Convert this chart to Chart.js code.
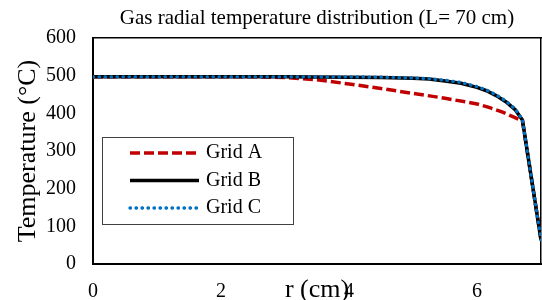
<!DOCTYPE html>
<html>
<head>
<meta charset="utf-8">
<script src="https://cdn.jsdelivr.net/npm/chart.js@4.4.0/dist/chart.umd.min.js"></script>
<style>
  html, body { margin: 0; padding: 0; background: #fff; }
  #wrap { width: 542px; height: 300px; position: relative; }
</style>
</head>
<body>
<div id="wrap"><canvas id="chart" width="542" height="300"></canvas></div>
<script>
// values
const chartTitle = 'Gas radial temperature distribution (L= 70 cm)';
const xTitle = 'r (cm)';
const yTitle = 'Temperature (°C)';
const xTicks = [0, 2, 4, 6];
const yTicks = [0, 100, 200, 300, 400, 500, 600];

const seriesNames = ['Grid A', 'Grid B', 'Grid C'];

const rA = [0, 1, 2, 2.5, 3, 3.5, 4, 4.5, 5, 5.5, 6, 6.2, 6.4, 6.55, 6.71, 7];
const tempA = [497, 497, 497, 497, 495, 489, 478, 466, 453, 440, 425, 415, 403, 392, 380, 64];

const rB = [0, 1, 2, 3, 4, 4.5, 5, 5.25, 5.5, 5.75, 6, 6.15, 6.3, 6.45, 6.6, 6.71, 7];
const tempB = [497, 497, 497, 497, 496, 495, 493, 491, 486, 480, 469, 460, 447, 431, 409, 382, 64];

const rC = [0, 1, 2, 3, 4, 4.5, 5, 5.25, 5.5, 5.75, 6, 6.15, 6.3, 6.45, 6.6, 6.71, 7];
const tempC = [497, 497, 497, 497, 497, 496, 494, 492, 488, 482, 471, 462, 449, 433, 411, 383, 64];

const serif = "'Liberation Serif', 'Times New Roman', serif";

function pts(xs, ys) {
  return xs.map((x, i) => ({x: x, y: ys[i]}));
}

function fixedTicks(list) {
  return function(scale) {
    scale.ticks = list.map(v => ({value: v}));
  };
}

// legend box inside the plot, drawn with the datasets' own styles
const boxLegend = {
  id: 'boxLegend',
  afterDraw(chart) {
    const ctx = chart.ctx;
    const x0 = 102, y0 = 137, w = 191, h = 87;
    ctx.save();
    ctx.fillStyle = '#fff';
    ctx.fillRect(x0, y0, w, h);
    ctx.strokeStyle = '#404040';
    ctx.lineWidth = 1;
    ctx.strokeRect(x0 + 0.5, y0 + 0.5, w, h);
    chart.data.datasets.forEach((ds, i) => {
      const y = 153 + i * 27.5;
      ctx.beginPath();
      ctx.strokeStyle = ds.borderColor;
      ctx.lineWidth = ds.borderWidth;
      ctx.lineCap = ds.borderCapStyle || 'butt';
      ctx.setLineDash(ds.borderDash || []);
      ctx.moveTo(130, y);
      ctx.lineTo(199, y);
      ctx.stroke();
      ctx.setLineDash([]);
      ctx.fillStyle = '#000';
      ctx.font = '20px ' + serif;
      ctx.textBaseline = 'middle';
      ctx.fillText(ds.label, 206, y);
    });
    ctx.restore();
  }
};

new Chart(document.getElementById('chart'), {
  type: 'line',
  data: {
    datasets: [
      {
        label: seriesNames[0],
        data: pts(rA, tempA),
        borderColor: '#C00000',
        borderWidth: 3.5,
        borderDash: [10, 4],
        borderJoinStyle: 'round',
        pointRadius: 0,
        tension: 0,
        order: 2
      },
      {
        label: seriesNames[1],
        data: pts(rB, tempB),
        borderColor: '#000000',
        borderWidth: 3.5,
        borderJoinStyle: 'round',
        pointRadius: 0,
        tension: 0,
        order: 1
      },
      {
        label: seriesNames[2],
        data: pts(rC, tempC),
        borderColor: '#0070C0',
        borderWidth: 3.3,
        borderDash: [0.5, 5.5],
        borderCapStyle: 'round',
        pointRadius: 0,
        tension: 0,
        order: 0
      }
    ]
  },
  options: {
    responsive: false,
    animation: false,
    devicePixelRatio: 1,
    layout: {padding: 0},
    plugins: {
      legend: {display: false},
      tooltip: {enabled: false}
    },
    scales: {
      x: {
        type: 'linear',
        min: 0,
        max: 7,
        afterBuildTicks: fixedTicks(xTicks),
        afterFit(scale) { scale.height = 36; },
        grid: {display: false, drawTicks: false},
        border: {display: true, color: '#000', width: 2},
        ticks: {color: '#000', padding: 16, maxRotation: 0, font: {family: serif, size: 20}},
        title: {display: true, text: xTitle, color: '#000', padding: 0, font: {family: serif, size: 26, lineHeight: 0.75}}
      },
      y: {
        min: 0,
        max: 600,
        afterBuildTicks: fixedTicks(yTicks),
        afterFit(scale) { scale.width = 93; },
        grid: {display: false, drawTicks: false},
        border: {display: true, color: '#000', width: 2},
        ticks: {color: '#000', padding: 17, font: {family: serif, size: 20}},
        title: {display: true, text: yTitle, color: '#000', padding: {top: 15}, font: {family: serif, size: 26, lineHeight: 1}}
      },
      x2: {
        type: 'linear',
        position: 'top',
        min: 0,
        max: 1,
        afterFit(scale) { scale.height = 38; },
        grid: {display: false, drawTicks: false},
        border: {display: true, color: '#000', width: 1.5},
        ticks: {display: false},
        title: {display: true, text: chartTitle, color: '#000', padding: {top: 6}, font: {family: serif, size: 21, lineHeight: 1.2}}
      },
      y2: {
        position: 'right',
        min: 0,
        max: 1,
        afterFit(scale) { scale.width = 1; },
        grid: {display: false, drawTicks: false},
        border: {display: true, color: '#000', width: 1.5},
        ticks: {display: false}
      }
    }
  },
  plugins: [boxLegend]
});
</script>
</body>
</html>
